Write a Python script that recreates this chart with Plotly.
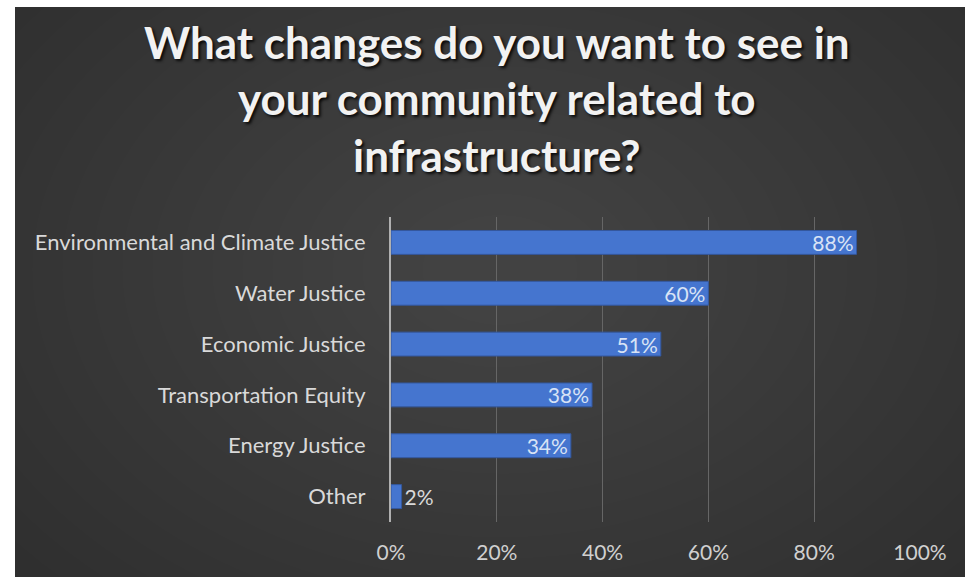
import plotly.graph_objects as go

categories = ["Environmental and Climate Justice", "Water Justice", "Economic Justice",
              "Transportation Equity", "Energy Justice", "Other"]
values = [0.88, 0.60, 0.51, 0.38, 0.34, 0.02]
value_labels = ["88%", "60%", "51%", "38%", "34%", "2%"]
title_lines = ["What changes do you want to see in", "your community related to", "infrastructure?"]
x_ticks = [0, 0.2, 0.4, 0.6, 0.8, 1.0]
x_ticklabels = ["0%", "20%", "40%", "60%", "80%", "100%"]

EXTRA = 20  # figure slightly larger than the window so the dark panel reaches the edges
W, H = 965 + EXTRA, 577 + EXTRA
L, R, T, B = 391, 45 + EXTRA, 217, 55 + EXTRA
pw, ph = W - L - R, H - T - B

def px_x(p):
    return (p - L) / pw

def px_y(p):
    return (H - B - p) / ph

positions = ["inside" if v > 0.1 else "outside" for v in values]

fig = go.Figure()
fig.add_trace(go.Bar(
    y=categories, x=values, orientation="h",
    text=value_labels, textposition=positions,
    insidetextanchor="end",
    insidetextfont=dict(family="Lato", size=21, color="#d8e3f6"),
    outsidetextfont=dict(family="Lato", size=21, color="#d9d9d9"),
    marker=dict(color="#4575cf", line=dict(color="#34589e", width=1)),
    width=0.47, cliponaxis=False,
))

shapes = [dict(type="rect", xref="paper", yref="paper", layer="below",
               x0=px_x(15), x1=px_x(W + 60), y0=px_y(H + 60), y1=px_y(7),
               fillcolor="#2a2a2a", line=dict(width=0))]
cx, cy = px_x(500), px_y(270)
n = 24
for i in range(n):
    r = 640 - i * 25
    shapes.append(dict(type="circle", xref="paper", yref="paper", layer="below",
                       xsizemode="pixel", ysizemode="pixel", xanchor=cx, yanchor=cy,
                       x0=-r * 1.2, x1=r * 1.2, y0=-r * 0.85, y1=r * 0.85,
                       fillcolor="rgba(255,255,255,0.009)", line=dict(width=0)))

annotations = []
for line, yp in zip(title_lines, [42, 98, 155]):
    annotations.append(dict(text=line, xref="paper", yref="paper",
                            x=px_x(497), y=px_y(yp), showarrow=False,
                            xanchor="center", yanchor="middle",
                            font=dict(family="Lato", size=44, color="#f2f2f2", weight="bold",
                                      shadow="2px 2px 3px rgba(0,0,0,0.85)")))

fig.update_layout(
    width=W, height=H,
    margin=dict(l=L, r=R, t=T, b=B),
    paper_bgcolor="white", plot_bgcolor="rgba(0,0,0,0)",
    showlegend=False, shapes=shapes, annotations=annotations,
    uniformtext=dict(minsize=21, mode="show"),
    xaxis=dict(range=[0, 1], tickvals=x_ticks, ticktext=x_ticklabels,
               showgrid=True, gridcolor="#666666", gridwidth=1,
               zeroline=False, showline=False, ticks="",
               tickfont=dict(family="Lato", size=21, color="#d0d0d0"),
               ticklabelstandoff=16, fixedrange=True),
    yaxis=dict(autorange="reversed", showgrid=False, zeroline=False,
               showline=True, linecolor="#b0b0b0", linewidth=2, ticks="",
               tickfont=dict(family="Lato", size=22, color="#d9d9d9"),
               ticklabelstandoff=19),
)

fig.write_html("out.html", config={"displayModeBar": False},
               post_script="document.body.style.margin='0';document.body.style.overflow='hidden';")
